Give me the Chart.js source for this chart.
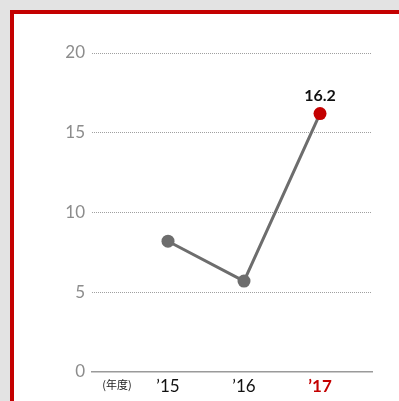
<!DOCTYPE html>
<html>
<head>
<meta charset="utf-8">
<script src="https://cdn.jsdelivr.net/npm/chart.js@4/dist/chart.umd.min.js"></script>
<style>
  html, body { margin: 0; padding: 0; }
  body { width: 399px; height: 401px; background: #e3e3e3; position: relative; overflow: hidden; }
  .frame { position: absolute; left: 10px; top: 10px; width: 420px; height: 420px; background: #fff; border: 4px solid #c40000; box-sizing: border-box; }
  #chart { position: absolute; left: 0; top: 0; }
</style>
</head>
<body>
<div class="frame"></div>
<canvas id="chart" width="399" height="401"></canvas>
<script>
// fiscal years and values
const years = [15, 16, 17];
const yearLabels = ['\u201915', '\u201916', '\u201917'];
const values = [8.2, 5.7, 16.2];
const yTicks = [0, 5, 10, 15, 20];

const RED = '#c40000';
const GREY = '#6d6d6d';
const FONT = 'Lato, "Noto Sans", sans-serif';

const lastIdx = values.length - 1;

// draws the value above the last point and the unit label under the axis
const extras = {
    id: 'extras',
    afterDraw(chart) {
        const ctx = chart.ctx;
        const meta = chart.getDatasetMeta(0);
        const pt = meta.data[lastIdx];
        ctx.save();
        ctx.fillStyle = '#111';
        ctx.font = 'bold 16px ' + FONT;
        ctx.textAlign = 'center';
        ctx.textBaseline = 'alphabetic';
        ctx.fillText(values[lastIdx].toFixed(1), pt.x, pt.y - 13);

        ctx.font = '11px "Noto Sans CJK JP", sans-serif';
        ctx.fillStyle = '#222';
        ctx.textBaseline = 'middle';
        ctx.fillText('(年度)', 117, 385);
        ctx.restore();
    }
};

new Chart(document.getElementById('chart'), {
    type: 'line',
    data: {
        datasets: [{
            data: years.map((y, i) => ({ x: y, y: values[i] })),
            borderColor: GREY,
            borderWidth: 3,
            pointRadius: 6.5,
            pointHoverRadius: 6.5,
            pointBorderWidth: 0,
            pointBackgroundColor: values.map((v, i) => i === lastIdx ? RED : GREY),
            tension: 0
        }]
    },
    options: {
        responsive: false,
        animation: false,
        plugins: { legend: { display: false }, tooltip: { enabled: false } },
        layout: { padding: { top: 53, right: 27, left: 0, bottom: 0 } },
        scales: {
            x: {
                type: 'linear',
                min: 14,
                max: 17.684,
                afterFit: s => { s.height = 29; },
                afterBuildTicks: s => { s.ticks = years.map(v => ({ value: v })); },
                grid: { display: false, drawTicks: false },
                border: { display: true, color: '#9a9a9a', width: 1.5 },
                ticks: {
                    padding: 4,
                    autoSkip: false,
                    maxRotation: 0,
                    callback: (v) => yearLabels[years.indexOf(v)],
                    color: c => c.index === lastIdx ? RED : '#111',
                    font: c => ({ family: FONT, size: 17, weight: c.index === lastIdx ? 'bold' : 'normal' })
                }
            },
            y: {
                min: 0,
                max: 20,
                afterFit: s => { s.width = 92; },
                afterBuildTicks: s => { s.ticks = yTicks.map(v => ({ value: v })); },
                grid: {
                    drawTicks: false,
                    color: c => c.tick && c.tick.value === 0 ? 'rgba(0,0,0,0)' : '#a0a0a0',
                    lineWidth: 1
                },
                border: { display: false, dash: [1, 1] },
                ticks: {
                    padding: 7,
                    color: '#8c8c8c',
                    font: { family: FONT, size: 17, weight: 'normal' }
                }
            }
        }
    },
    plugins: [extras]
});
</script>
</body>
</html>
